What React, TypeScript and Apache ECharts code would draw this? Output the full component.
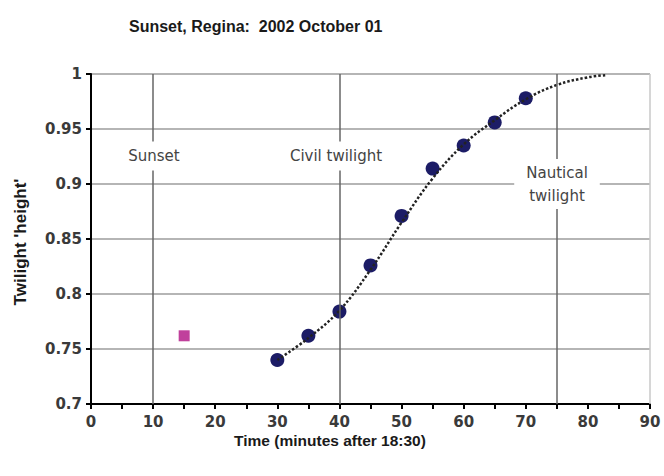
import React, { useEffect, useRef } from "react";
import * as echarts from "echarts";

const titleText = "Sunset, Regina:  2002 October 01";
const xName = "Time (minutes after 18:30)";
const yName = "Twilight 'height'";

const obsMinutes = [30, 35, 40, 45, 50, 55, 60, 65, 70];
const obsHeights = [0.74, 0.762, 0.784, 0.826, 0.871, 0.914, 0.935, 0.956, 0.978];

const sunsetMinutes = [15];
const sunsetHeights = [0.762];

const curveMinutes = [30, 35, 40, 45, 50, 55, 60, 65, 70, 75, 80, 83];
const curveHeights = [0.74, 0.76, 0.785, 0.822, 0.865, 0.905, 0.936, 0.958, 0.977, 0.99, 0.997, 0.999];

const eventMinutes = [10, 40, 75];
const eventLabels = ["Sunset", "Civil twilight", "Nautical\ntwilight"];
const borderMinutes = [90];

export default function App() {
  const ref = useRef<HTMLDivElement>(null);
  useEffect(() => {
    if (!ref.current) return;
    const chart = echarts.init(ref.current, undefined, { renderer: "svg" });
    const labelFont = "'Liberation Sans', Arial, sans-serif";
    const tickFont = "'DejaVu Sans', sans-serif";
    const annPos = [
      { x: 154, y: 156 },
      { x: 336, y: 156 },
      { x: 557, y: 184 },
    ];
    chart.setOption({
      animation: false,
      backgroundColor: "#ffffff",
      title: {
        text: titleText,
        left: 124,
        top: 13,
        textStyle: { fontFamily: labelFont, fontSize: 16, fontWeight: "bold", color: "#1a1a1a" },
      },
      grid: { left: 91, right: 14, top: 74, bottom: 72 },
      xAxis: {
        type: "value",
        min: 0,
        max: 90,
        interval: 5,
        axisLine: { show: true, lineStyle: { color: "#000", width: 2 } },
        axisTick: { show: true, length: 5, lineStyle: { color: "#000", width: 2 } },
        splitLine: { show: false },
        axisLabel: {
          margin: 10,
          fontFamily: tickFont,
          fontSize: 15,
          fontWeight: "bold",
          color: "#3a3a3a",
          formatter: (v: number) => (Math.round(v) % 10 === 0 ? String(Math.round(v)) : ""),
        },
      },
      yAxis: {
        type: "value",
        min: 0.7,
        max: 1,
        interval: 0.05,
        axisLine: { show: true, lineStyle: { color: "#000", width: 2 } },
        axisTick: { show: true, length: 5, lineStyle: { color: "#000", width: 2 } },
        splitLine: { show: true, lineStyle: { color: "#b5b5b5", width: 2 } },
        axisLabel: {
          margin: 9,
          fontFamily: tickFont,
          fontSize: 15,
          fontWeight: "bold",
          color: "#3a3a3a",
          formatter: (v: number) => String(Math.round(v * 100) / 100),
        },
      },
      series: [
        {
          type: "line",
          data: [],
          silent: true,
          markLine: {
            silent: true,
            symbol: "none",
            label: { show: false },
            data: [
              ...eventMinutes.map((m) => ({ xAxis: m, lineStyle: { color: "#666", width: 1.5, type: "solid" } })),
              ...borderMinutes.map((m) => ({ xAxis: m, lineStyle: { color: "#c8c8c8", width: 1.5, type: "solid" } })),
            ],
          },
        },
        {
          type: "scatter",
          data: obsMinutes.map((m, i) => [m, obsHeights[i]]),
          symbol: "circle",
          symbolSize: 14,
          itemStyle: { color: "#1c1c66", opacity: 1 },
          z: 3,
        },
        {
          type: "scatter",
          data: sunsetMinutes.map((m, i) => [m, sunsetHeights[i]]),
          symbol: "rect",
          symbolSize: 11,
          itemStyle: { color: "#c0409c", opacity: 1 },
          z: 3,
        },
        {
          type: "line",
          data: curveMinutes.map((m, i) => [m, curveHeights[i]]),
          smooth: 0.4,
          showSymbol: false,
          symbol: "none",
          lineStyle: { color: "#222", width: 2.5, type: [2.5, 2] },
          z: 4,
        },
      ],
      graphic: [
        ...eventLabels.map((t, i) => ({
          type: "text",
          x: annPos[i].x,
          y: annPos[i].y,
          z: 100,
          style: {
            text: t,
            fontFamily: "'DejaVu Sans', sans-serif",
            fontSize: 15,
            fill: "#444",
            align: "center",
            verticalAlign: "middle",
            lineHeight: 23,
            backgroundColor: "#fff",
            padding: i === 2 ? [2, 12] : [3, 2],
          },
        })),
        {
          type: "text",
          x: 330,
          y: 440,
          z: 100,
          style: {
            text: xName,
            fontFamily: labelFont,
            fontSize: 15.5,
            fontWeight: "bold",
            fill: "#1a1a1a",
            align: "center",
            verticalAlign: "middle",
          },
        },
        {
          type: "text",
          x: 20,
          y: 242,
          rotation: Math.PI / 2,
          z: 100,
          style: {
            text: yName,
            fontFamily: labelFont,
            fontSize: 17,
            fontWeight: "bold",
            fill: "#1a1a1a",
            align: "center",
            verticalAlign: "middle",
          },
        },
      ],
    });
    return () => chart.dispose();
  }, []);
  return <div ref={ref} style={{ width: 664, height: 476, position: "absolute", left: 0, top: 0 }} />;
}
